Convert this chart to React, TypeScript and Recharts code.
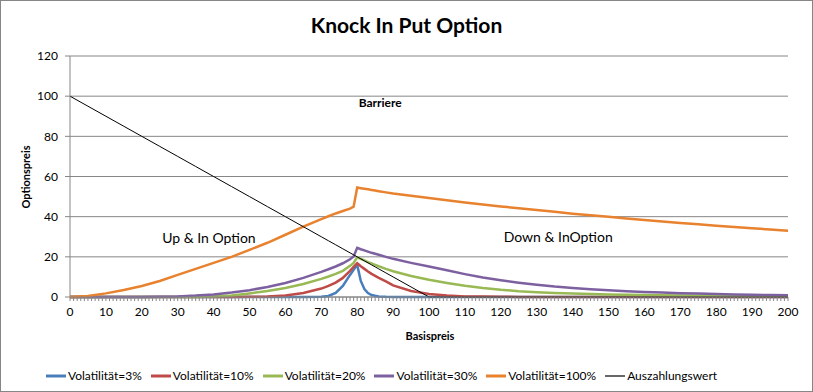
import {
  LineChart,
  Line,
  XAxis,
  YAxis,
  CartesianGrid,
  ReferenceDot,
} from 'recharts';

// Basispreis values where the curves are sampled (denser around the barrier at 80)
const basispreis = [
  0, 5, 10, 15, 20, 25, 30, 35, 40, 45, 50, 55, 60, 65, 70,
  72, 74, 76, 78, 79, 80, 81, 82, 83, 84, 85, 86, 88, 90,
  95, 100, 105, 110, 115, 120, 125, 130, 135, 140, 145, 150, 155, 160, 165, 170, 175, 180, 185, 190, 195, 200,
];

const vol3 = [
  0, 0, 0, 0, 0, 0, 0, 0, 0, 0, 0, 0, 0, 0, 0.1,
  0.5, 2, 5.5, 11, 13.5, 16, 8, 4, 2, 1, 0.6, 0.3, 0.1, 0,
  0, 0, 0, 0, 0, 0, 0, 0, 0, 0, 0, 0, 0, 0, 0, 0, 0, 0, 0, 0, 0, 0,
];

const vol10 = [
  0, 0, 0, 0, 0, 0, 0, 0, 0, 0, 0.1, 0.3, 0.8, 2, 4.2,
  5.5, 7.2, 9.5, 13, 15, 16.8, 15.3, 14, 12.7, 11.5, 10.5, 9.5, 7.8, 5.8,
  3, 1.5, 0.7, 0.3, 0.2, 0.1, 0.05, 0, 0, 0, 0, 0, 0, 0, 0, 0, 0, 0, 0, 0, 0, 0,
];

const vol20 = [
  0, 0, 0, 0, 0, 0, 0, 0, 0.3, 0.8, 1.8, 3, 4.5, 6.5, 9,
  10.2, 11.5, 13, 15.5, 17, 19.8, 19, 18.2, 17.4, 16.7, 16, 15.3, 14, 12.8,
  10.5, 8.6, 7, 5.6, 4.5, 3.6, 2.9, 2.4, 2, 1.7, 1.5, 1.3, 1.15, 1, 0.9, 0.8, 0.7, 0.65, 0.6, 0.55, 0.5, 0.45,
];

const vol30 = [
  0, 0, 0, 0, 0, 0.1, 0.3, 0.7, 1.3, 2.2, 3.4, 5, 7, 9.5, 12.5,
  13.8, 15.2, 16.8, 18.8, 20.2, 24.5, 23.8, 23.2, 22.6, 22, 21.5, 21, 20, 19,
  17, 15.2, 13.3, 11.4, 9.7, 8.3, 7.1, 6.1, 5.2, 4.5, 3.9, 3.4, 2.9, 2.5, 2.2, 1.9, 1.7, 1.5, 1.3, 1.1, 1, 0.9,
];

const vol100 = [
  0, 0.5, 1.8, 3.5, 5.5, 8, 11, 14, 17, 20, 23.5, 27, 31, 35, 38.8,
  40.2, 41.6, 42.8, 44, 45, 54.5, 54.2, 53.9, 53.6, 53.3, 53, 52.7, 52.1, 51.5,
  50.4, 49.3, 48.2, 47.1, 46.1, 45.1, 44.2, 43.3, 42.4, 41.5, 40.7, 39.9, 39.1, 38.3, 37.6, 36.9, 36.2, 35.5, 34.8, 34.2, 33.6, 33,
];

const auszahlung = [
  100, 95, 90, 85, 80, 75, 70, 65, 60, 55, 50, 45, 40, 35, 30,
  28, 26, 24, 22, 21, 20, 19, 18, 17, 16, 15, 14, 12, 10,
  5, 0, 0, 0, 0, 0, 0, 0, 0, 0, 0, 0, 0, 0, 0, 0, 0, 0, 0, 0, 0, 0,
];

const yTicks = [0, 20, 40, 60, 80, 100, 120];
// one small tick per Basispreis unit, labels only on the tens
const xMinorTicks = Array.from({ length: 201 }, (_, i) => i);

const series = [
  { key: 'v3', name: 'Volatilität=3%', color: '#4A7EBB', width: 2.5 },
  { key: 'v10', name: 'Volatilität=10%', color: '#BE4B48', width: 2.5 },
  { key: 'v20', name: 'Volatilität=20%', color: '#98B954', width: 2.5 },
  { key: 'v30', name: 'Volatilität=30%', color: '#7D60A0', width: 2.5 },
  { key: 'v100', name: 'Volatilität=100%', color: '#E8822E', width: 2.5 },
  { key: 'pay', name: 'Auszahlungswert', color: '#000000', width: 1 },
];

const annotations = [
  { x: 86.4, y: 96.5, text: 'Barriere', bold: true, size: 12 },
  { x: 38.7, y: 29.5, text: 'Up & In Option', bold: false, size: 14 },
  { x: 136, y: 30, text: 'Down & InOption', bold: false, size: 14 },
];

const data = basispreis.map((x, i) => ({
  x,
  v3: vol3[i],
  v10: vol10[i],
  v20: vol20[i],
  v30: vol30[i],
  v100: vol100[i],
  pay: auszahlung[i],
}));

const FONT = 'Lato, "Open Sans", sans-serif';
const GRID = '#868686';
const X_TICK = 4;
const X_GAP = 6;

function XTick(props: any) {
  const { x, y, payload } = props;
  const axisY = y - X_TICK - X_GAP;
  const v = payload.value as number;
  return (
    <g>
      <line x1={x} x2={x} y1={axisY} y2={axisY + X_TICK} stroke={GRID} strokeWidth={1} />
      {v % 10 === 0 && (
        <text x={x} y={y} dy="0.75em" textAnchor="middle" fill="#000" fontSize={12} fontFamily={FONT}>
          {v}
        </text>
      )}
    </g>
  );
}

function LegendRow() {
  return (
    <div
      style={{
        position: 'absolute',
        left: 0,
        top: 367,
        width: 811,
        display: 'flex',
        justifyContent: 'center',
        gap: 9,
        fontSize: 12,
        color: '#000',
        paddingRight: 50,
        boxSizing: 'border-box',
      }}
    >
      {series.map((s) => (
        <div key={s.key} style={{ display: 'flex', alignItems: 'center' }}>
          <svg width={20} height={8} style={{ marginRight: 2 }}>
            <line x1={0} y1={4} x2={20} y2={4} stroke={s.color} strokeWidth={s.width === 1 ? 1.2 : 3} />
          </svg>
          <span>{s.name}</span>
        </div>
      ))}
    </div>
  );
}

export default function App() {
  return (
    <div
      style={{
        position: 'absolute',
        left: 0,
        top: 0,
        width: 811,
        height: 390,
        border: '1px solid #868686',
        background: '#fff',
        fontFamily: FONT,
      }}
    >
      <div
        style={{
          position: 'absolute',
          top: 11,
          width: '100%',
          textAlign: 'center',
          fontSize: 21,
          fontWeight: 700,
        }}
      >
        Knock In Put Option
      </div>
      <div
        style={{
          position: 'absolute',
          left: 24,
          top: 176,
          transform: 'translate(-50%, -50%) rotate(-90deg)',
          fontSize: 11,
          fontWeight: 700,
          whiteSpace: 'nowrap',
        }}
      >
        Optionspreis
      </div>
      <div
        style={{
          position: 'absolute',
          left: 429,
          top: 334,
          transform: 'translate(-50%, -50%)',
          fontSize: 11,
          fontWeight: 700,
        }}
      >
        Basispreis
      </div>
      <LineChart
        width={811}
        height={390}
        data={data}
        margin={{ top: 55, right: 24, left: 0, bottom: 70 }}
      >
        <CartesianGrid vertical={false} stroke={GRID} strokeWidth={1} />
        <XAxis
          dataKey="x"
          type="number"
          domain={[0, 200]}
          ticks={xMinorTicks}
          interval={0}
          tickSize={X_TICK}
          tickMargin={X_GAP}
          height={24}
          stroke={GRID}
          tickLine={false}
          tick={<XTick />}
        />
        <YAxis
          type="number"
          domain={[0, 120]}
          ticks={yTicks}
          width={69}
          tickSize={5}
          tickMargin={7}
          stroke={GRID}
          tickLine={{ stroke: GRID }}
          tick={{ fill: '#000', fontSize: 12, fontFamily: FONT }}
        />
        {series.map((s) => (
          <Line
            key={s.key}
            type="linear"
            dataKey={s.key}
            name={s.name}
            stroke={s.color}
            strokeWidth={s.width}
            dot={false}
            activeDot={false}
            isAnimationActive={false}
          />
        ))}
        {annotations.map((a) => (
          <ReferenceDot
            key={a.text}
            x={a.x}
            y={a.y}
            r={1}
            fill="none"
            stroke="none"
            label={{
              value: a.text,
              position: 'center',
              fill: '#000',
              fontSize: a.size,
              fontWeight: a.bold ? 700 : 400,
              fontFamily: FONT,
            }}
          />
        ))}
      </LineChart>
      <LegendRow />
    </div>
  );
}
